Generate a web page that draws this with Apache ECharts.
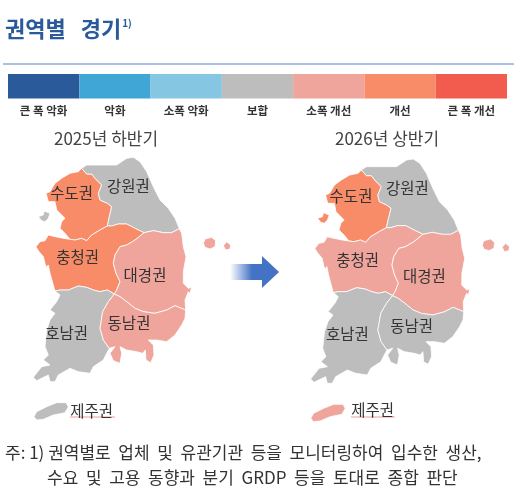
<!DOCTYPE html>
<html>
<head>
<meta charset="utf-8">
<style>
html,body{margin:0;padding:0;background:#fff}
#chart{width:518px;height:495px}
</style>
<script src="https://cdn.jsdelivr.net/npm/echarts@6/dist/echarts.min.js"></script>
</head>
<body>
<div id="chart"></div>
<script>
var FONT = '"Noto Sans CJK KR","Noto Sans",sans-serif';

// 범례
var stateNames = ['큰 폭 악화','악화','소폭 악화','보합','소폭 개선','개선','큰 폭 개선'];
var stateColors = ['#2b5a9b','#40a6d5','#85c6e3','#bdbdbd','#f0a59c','#f88c68','#f25c4f'];
var stateBars = [1,1,1,1,1,1,1];

// 권역별 경기 (stateNames 인덱스)
var regionNames = ['수도권','강원권','충청권','대경권','호남권','동남권','제주권','서해도서'];
var state2025 = [5,3,5,4,3,4,3,3];
var state2026 = [5,3,4,4,3,3,4,5];

// 지도 외곽선 (확대 이미지 기준 좌표, 경계선은 공유)
var bSudoGang = [[185,55],[200,72],[215,72],[225,85],[245,105],[235,130],[240,150],[262,160],[275,170],[268,200],[262,228]];
var bSudoChung = [[262,228],[240,240],[215,255],[200,272],[185,265],[165,270],[150,268]];
var bGangChung = [[262,228],[275,228],[295,222],[320,222],[345,235],[372,248]];
var bGangDae = [[372,248],[400,242],[430,248],[455,248],[478,236]];
var bChungDae = [[372,248],[345,270],[320,285],[300,290],[285,315],[280,340],[288,370],[300,395],[290,420],[283,432]];
var bChungHo = [[283,432],[262,420],[240,425],[220,420],[200,412],[175,408],[145,420],[120,420],[105,423]];
var bDaeDong = [[283,432],[300,440],[320,455],[345,475],[370,485],[405,490],[440,480],[465,467],[497,480]];
var bHoDong = [[283,432],[265,455],[248,485],[240,535],[250,570],[268,595]];
var cSudo = [[150,268],[135,250],[120,235],[125,215],[135,205],[110,180],[105,155],[85,155],[78,130],[90,125],[105,100],[125,85],[150,70],[175,65],[185,55]];
var cGang = [[185,55],[200,45],[250,45],[290,45],[320,25],[340,22],[360,35],[380,65],[400,110],[420,150],[445,175],[465,205],[478,236]];
var cChung = [[105,423],[90,370],[85,345],[78,352],[70,320],[55,302],[48,290],[60,275],[75,272],[85,255],[105,260],[130,265],[150,268]];
var cDae = [[478,236],[485,250],[490,290],[498,320],[490,365],[490,400],[505,415],[515,412],[510,430],[505,425],[495,450],[497,480]];
var cDong = [[497,480],[495,505],[485,525],[465,555],[440,575],[410,570],[385,570],[400,585],[402,615],[392,638],[378,630],[376,600],[368,610],[350,605],[320,600],[300,590],[305,610],[300,640],[280,632],[270,610],[285,590],[268,595]];
var cHo = [[268,595],[260,610],[250,630],[220,650],[210,670],[175,665],[150,655],[115,675],[105,695],[90,695],[85,675],[50,692],[40,682],[65,650],[90,645],[70,630],[85,615],[75,590],[80,540],[90,510],[105,490],[90,480],[110,455],[120,435],[105,423]];
var islandUlleung = [[550,280],[555,267],[575,262],[587,272],[585,290],[570,297],[555,292]];
var islandDokdo = [[610,287],[620,275],[632,285],[630,297],[617,300]];
var islandJeju = [[42,800],[50,785],[80,770],[110,758],[138,758],[145,770],[135,788],[100,795],[70,808],[50,810]];
var islandWest = [[55,200],[70,195],[72,183],[90,190],[85,205],[75,215],[65,212]];

// 라벨 위치 (지도 프레임 기준)
var labelPos2025 = [[155,130],[325,108],[173,322],[375,375],[140,550],[327,520],[215,782],null];
var labelPos2026 = [[183,137],[352,115],[203,330],[403,378],[172,552],[365,527],[248,780],null];

function ring(parts) {
    var out = [];
    parts.forEach(function (p) { out = out.concat(p); });
    return out;
}
function rev(a) { return a.slice().reverse(); }

var regionShapes = [
    [ring([bSudoGang, bSudoChung, cSudo])],
    [ring([cGang, rev(bGangDae), rev(bGangChung), rev(bSudoGang)])],
    [ring([bGangChung, bChungDae, bChungHo, cChung, rev(bSudoChung)])],
    [ring([bGangDae, cDae, rev(bDaeDong), rev(bChungDae)])],
    [ring([rev(bChungHo), bHoDong, cHo])],
    [ring([bDaeDong, cDong, rev(bHoDong)])],
    [islandJeju],
    [islandWest]
];

function buildGeo(labelPos, dx, shear, dy) {
    var conv = function (pt) {
        return [pt[0] + dx - shear * pt[1] / 840, -(pt[1] + dy)];
    };
    var features = regionNames.map(function (name, i) {
        var polys = regionShapes[i].map(function (r) { return [r.map(conv)]; });
        if (name === '대경권') {
            polys.push([islandUlleung.map(conv)]);
            polys.push([islandDokdo.map(conv)]);
        }
        var props = { name: name };
        if (labelPos[i]) props.cp = [labelPos[i][0], -labelPos[i][1]];
        return {
            type: 'Feature',
            properties: props,
            geometry: { type: 'MultiPolygon', coordinates: polys }
        };
    });
    return { type: 'FeatureCollection', features: features };
}

echarts.registerMap('korea2025', buildGeo(labelPos2025, 0, 0, 0));
echarts.registerMap('korea2026', buildGeo(labelPos2026, 30, 10, 5));

function mapSeries(mapName, states, left) {
    return {
        type: 'map',
        map: mapName,
        aspectScale: 1,
        boundingCoords: [[0, 0], [660, -840]],
        left: left,
        top: 150,
        width: 220,
        height: 280,
        roam: false,
        silent: true,
        showLegendSymbol: false,
        itemStyle: { borderColor: '#fff', borderWidth: 0.8 },
        label: {
            show: true,
            fontFamily: FONT,
            fontSize: 15.5,
            color: '#333',
            formatter: function (p) { return p.name === '서해도서' ? '' : p.name; }
        },
        data: regionNames.map(function (name, i) {
            return { name: name, value: states[i], itemStyle: { areaColor: stateColors[states[i]] } };
        })
    };
}

var chart = echarts.init(document.getElementById('chart'));
var option = {
    animation: false,
    title: [
        {
            text: '{a|권역별   경기}{b|1)}',
            left: 5, top: 18, padding: 0,
            textStyle: {
                rich: {
                    a: { fontFamily: FONT, fontSize: 22, fontWeight: 'bold', color: '#2b5a9b' },
                    b: { fontFamily: FONT, fontSize: 10, fontWeight: 'bold', color: '#2b5a9b', verticalAlign: 'top', padding: [0, 0, 8, 1] }
                }
            }
        },
        { text: '2025년 하반기', left: 106, top: 130, padding: 0, textAlign: 'center', textStyle: { fontFamily: FONT, fontSize: 17, fontWeight: 'normal', color: '#444' } },
        { text: '2026년 상반기', left: 387, top: 130, padding: 0, textAlign: 'center', textStyle: { fontFamily: FONT, fontSize: 17, fontWeight: 'normal', color: '#444' } },
        { text: '주: 1) 권역별로  업체  및  유관기관  등을  모니터링하여  입수한  생산,', left: 5, top: 444, padding: 0, textStyle: { fontFamily: FONT, fontSize: 17, fontWeight: 'normal', color: '#333' } },
        { text: '수요  및  고용  동향과  분기  GRDP  등을  토대로  종합  판단', left: 47, top: 469, padding: 0, textStyle: { fontFamily: FONT, fontSize: 17, fontWeight: 'normal', color: '#333' } }
    ],
    grid: { left: 8, top: 74, width: 499, height: 24.5 },
    xAxis: {
        type: 'category',
        data: stateNames,
        axisLine: { show: false },
        axisTick: { show: false },
        axisLabel: { interval: 0, margin: 6, fontFamily: FONT, fontSize: 11.5, fontWeight: 'bold', color: '#333' }
    },
    yAxis: { type: 'value', min: 0, max: 1, show: false },
    series: [
        {
            type: 'bar',
            barWidth: '100%',
            silent: true,
            data: stateBars.map(function (v, i) {
                return { value: v, itemStyle: { color: stateColors[i] } };
            })
        },
        mapSeries('korea2025', state2025, 20),
        mapSeries('korea2026', state2026, 290)
    ],
    graphic: [
        { type: 'line', shape: { x1: 3, y1: 64, x2: 514, y2: 64 }, style: { stroke: '#5b84c4', lineWidth: 1 } },
        {
            type: 'polygon',
            shape: { points: [[230, 264], [262, 264], [262, 256], [279, 272], [262, 288], [262, 280], [230, 280]] },
            style: {
                fill: new echarts.graphic.LinearGradient(0, 0, 1, 0, [
                    { offset: 0, color: '#ffffff' },
                    { offset: 0.45, color: '#4472c4' },
                    { offset: 1, color: '#4472c4' }
                ])
            }
        },
        // 원본 이미지의 빨간 밑줄
        { type: 'line', shape: { x1: 123, y1: 282, x2: 168, y2: 282 }, style: { stroke: '#f29a9a', lineWidth: 1 } },
        { type: 'line', shape: { x1: 403, y1: 282, x2: 447, y2: 282 }, style: { stroke: '#f29a9a', lineWidth: 1 } },
        { type: 'line', shape: { x1: 70, y1: 417, x2: 115, y2: 417 }, style: { stroke: '#f29a9a', lineWidth: 1 } },
        { type: 'line', shape: { x1: 351, y1: 417, x2: 395, y2: 417 }, style: { stroke: '#f29a9a', lineWidth: 1 } }
    ]
};
chart.setOption(option);
</script>
</body>
</html>
